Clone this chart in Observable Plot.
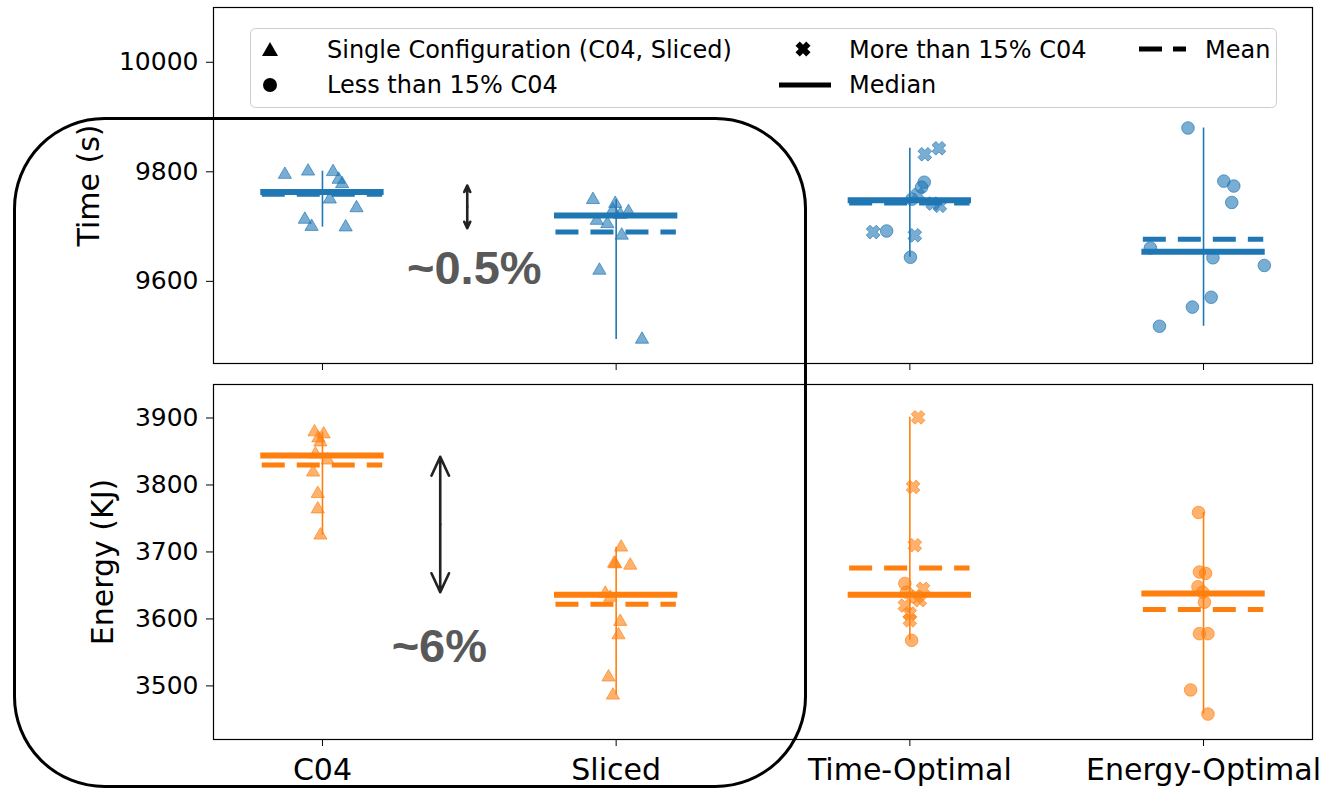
<!DOCTYPE html>
<html>
<head>
<meta charset="utf-8">
<script src="https://cdn.jsdelivr.net/npm/d3@7"></script>
<script src="https://cdn.jsdelivr.net/npm/@observablehq/plot@0.6"></script>
<style>
html, body { margin: 0; padding: 0; background: #fff; }
#wrap { position: relative; width: 1326px; height: 789px; overflow: hidden; font-family: "DejaVu Sans", sans-serif; }
#wrap > svg, #wrap > figure { display: block; margin: 0; }
#overlay { position: absolute; left: 0; top: 0; pointer-events: none; }
</style>
</head>
<body>
<div id="wrap"></div>
<script>
// ---------------- data ----------------
const categories = ["C04", "Sliced", "Time-Optimal", "Energy-Optimal"];

// Time (s) per configuration run
const timeValues = [
  [9795, 9801, 9800, 9786, 9778, 9750, 9734, 9713, 9700, 9699],
  [9749, 9742, 9730, 9727, 9722, 9711, 9705, 9684, 9620, 9494],
  [9843, 9832, 9781, 9772, 9758, 9750, 9742, 9738, 9692, 9690, 9684, 9644],
  [9880, 9783, 9774, 9744, 9661, 9643, 9629, 9571, 9553, 9518]
];
// horizontal jitter (category units)
const timeJitter = [
  [-0.128, -0.049, 0.036, 0.055, 0.067, 0.025, 0.116, -0.060, -0.037, 0.079],
  [-0.079, -0.003, -0.011, 0.042, 0.014, -0.066, -0.030, 0.019, -0.057, 0.088],
  [0.099, 0.051, 0.049, 0.040, 0.027, 0.007, 0.078, 0.102, -0.079, -0.125, 0.017, 0.002],
  [-0.053, 0.069, 0.103, 0.096, -0.181, 0.032, 0.207, 0.026, -0.038, -0.150]
];
// S = single configuration, L = less than 15% C04, M = more than 15% C04
const timeGroup = [
  ["S","S","S","S","S","S","S","S","S","S"],
  ["S","S","S","S","S","S","S","S","S","S"],
  ["M","M","L","L","M","L","M","M","L","M","M","L"],
  ["L","L","L","L","L","L","L","L","L","L"]
];
const timeMedian = [9763, 9720, 9748, 9654];
const timeMean   = [9759, 9690, 9743, 9677];

// Energy (KJ) per configuration run
const energyValues = [
  [3879, 3876, 3864, 3846, 3837, 3819, 3787, 3764, 3725, 3870],
  [3707, 3683, 3682, 3680, 3638, 3632, 3596, 3576, 3513, 3486],
  [3901, 3797, 3710, 3653, 3645, 3640, 3633, 3628, 3620, 3608, 3598, 3568],
  [3759, 3670, 3668, 3648, 3640, 3625, 3578, 3578, 3494, 3458]
];
const energyJitter = [
  [-0.027, 0.004, -0.007, -0.024, 0.018, -0.032, -0.016, -0.016, -0.007, -0.014],
  [0.017, -0.007, -0.003, 0.048, -0.037, -0.020, 0.014, 0.008, -0.026, -0.011],
  [0.028, 0.011, 0.017, -0.017, 0.045, -0.011, 0.023, 0.034, -0.017, 0.000, 0.000, 0.006],
  [-0.017, -0.014, 0.007, -0.019, -0.003, 0.003, -0.014, 0.015, -0.044, 0.015]
];
const energyGroup = [
  ["S","S","S","S","S","S","S","S","S","S"],
  ["S","S","S","S","S","S","S","S","S","S"],
  ["M","M","M","L","M","L","M","M","M","M","M","L"],
  ["L","L","L","L","L","L","L","L","L","L"]
];
const energyMedian = [3844, 3636, 3636, 3638];
const energyMean   = [3830, 3622, 3676, 3614];

const timeTicks = [9600, 9800, 10000];
const energyTicks = [3500, 3600, 3700, 3800, 3900];

// gap annotations between C04 and Sliced
const gapLabels    = ["~0.5%", "~6%"];
const gapLabelX    = [0.517, 0.398];
const gapLabelY    = [9623, 3558];
const gapArrowX    = [0.493, 0.401];
const gapArrowFrom = [9775, 3842];
const gapArrowTo   = [9697, 3640];

const legendLabels = ["Single Configuration (C04, Sliced)", "Less than 15% C04", "More than 15% C04", "Median", "Mean"];

// ---------------- helpers ----------------
const BLUE = "#1f77b4", ORANGE = "#ff7f0e";

const symbolX = {
  draw(ctx, size) {
    const h = Math.sqrt(size) * 0.62, w = h * 0.38, c = Math.SQRT1_2;
    const pts = [[-w,-h],[w,-h],[w,-w],[h,-w],[h,w],[w,w],[w,h],[-w,h],[-w,w],[-h,w],[-h,-w],[-w,-w]];
    pts.forEach(([x, y], k) => {
      const X = (x - y) * c, Y = (x + y) * c;
      if (k) ctx.lineTo(X, Y); else ctx.moveTo(X, Y);
    });
    ctx.closePath();
  }
};

function buildRows(values, jitter, groups) {
  return values.flatMap((vs, i) => vs.map((v, j) => ({ x: i + jitter[i][j], y: v, g: groups[i][j] })));
}
function buildStats(values, med, mean) {
  return categories.map((c, i) => ({ i, median: med[i], mean: mean[i], lo: d3.min(values[i]), hi: d3.max(values[i]) }));
}

function panel({ rows, stats, color, yDomain, yTicks, yLabel, labelDx, height, mt, mb, showX, k }) {
  const mid = (gapArrowFrom[k] + gapArrowTo[k]) / 2;
  const arrows = [
    { x: gapArrowX[k], y1: mid, y2: gapArrowFrom[k] },
    { x: gapArrowX[k], y1: mid, y2: gapArrowTo[k] }
  ];
  const dotStyle = { x: "x", y: "y", fill: color, fillOpacity: 0.6, stroke: color, strokeOpacity: 0.65, strokeWidth: 1 };
  return Plot.plot({
    width: 1326, height,
    marginTop: mt, marginBottom: mb, marginLeft: 213, marginRight: 14,
    x: { type: "linear", domain: [-0.371, 3.371] },
    y: { domain: yDomain },
    style: { fontFamily: "DejaVu Sans", fontSize: "25px", color: "#000", background: "transparent", overflow: "visible" },
    marks: [
      Plot.ruleX(stats, { x: "i", y1: "lo", y2: "hi", stroke: color, strokeWidth: 1.6 }),
      Plot.ruleY(stats, { y: "median", x1: d => d.i - 0.21, x2: d => d.i + 0.21, stroke: color, strokeWidth: 6 }),
      Plot.ruleY(stats, { y: "mean", x1: d => d.i - 0.205, x2: d => d.i + 0.205, stroke: color, strokeWidth: 5, strokeDasharray: "23,12" }),
      Plot.dot(rows.filter(d => d.g === "S"), { ...dotStyle, symbol: "triangle", r: 4.9 }),
      Plot.dot(rows.filter(d => d.g === "L"), { ...dotStyle, symbol: "circle", r: 6.3 }),
      Plot.dot(rows.filter(d => d.g === "M"), { ...dotStyle, symbol: symbolX, r: 6.4 }),
      Plot.arrow(arrows, { x1: "x", x2: "x", y1: "y1", y2: "y2", stroke: "#222", strokeWidth: 2.6, headLength: 12, headAngle: 50 }),
      Plot.text([gapLabels[k]], { text: d => d, x: gapLabelX[k], y: gapLabelY[k], fontSize: 47, fontWeight: "bold", fontFamily: "Liberation Sans", fill: "#595959", textAnchor: "middle", lineAnchor: "middle" }),
      Plot.frame({ stroke: "#000", strokeWidth: 1.2 }),
      Plot.axisY({ ticks: yTicks, tickSize: 7, tickPadding: 8, label: null, tickFormat: d => String(d), fontSize: 25 }),
      Plot.axisX({ ticks: [0, 1, 2, 3], tickSize: 7, tickPadding: 12, label: null, tickFormat: showX ? (i => categories[i]) : (() => ""), fontSize: 30 }),
      Plot.text([yLabel], { text: d => d, frameAnchor: "left", dx: labelDx, rotate: -90, fontSize: 30, textAnchor: "middle", lineAnchor: "middle", fill: "#000" })
    ]
  });
}

const wrap = document.getElementById("wrap");

wrap.appendChild(panel({
  rows: buildRows(timeValues, timeJitter, timeGroup),
  stats: buildStats(timeValues, timeMedian, timeMean),
  color: BLUE, yDomain: [9450, 10100], yTicks: timeTicks, yLabel: "Time (s)", labelDx: -124,
  height: 370, mt: 7, mb: 7, showX: false, k: 0
}));
wrap.appendChild(panel({
  rows: buildRows(energyValues, energyJitter, energyGroup),
  stats: buildStats(energyValues, energyMedian, energyMean),
  color: ORANGE, yDomain: [3420, 3950], yTicks: energyTicks, yLabel: "Energy (KJ)", labelDx: -110,
  height: 419, mt: 14, mb: 50, showX: true, k: 1
}));

// ---------------- overlay: legend + highlight box ----------------
const NS = "http://www.w3.org/2000/svg";
const ov = document.createElementNS(NS, "svg");
ov.setAttribute("id", "overlay");
ov.setAttribute("width", 1326);
ov.setAttribute("height", 789);
function el(tag, attrs, text) {
  const e = document.createElementNS(NS, tag);
  for (const k in attrs) e.setAttribute(k, attrs[k]);
  if (text != null) e.textContent = text;
  ov.appendChild(e);
  return e;
}
el("rect", { x: 250.5, y: 28.5, width: 1026, height: 79, rx: 5, fill: "#fff", "fill-opacity": 0.85, stroke: "#cccccc", "stroke-width": 1 });
// markers
el("path", { d: "M270,42 L278,56 L262,56 Z", fill: "#000" });
el("circle", { cx: 270, cy: 85, r: 7, fill: "#000" });
{
  const h = 7.6, w = 3.0, c = Math.SQRT1_2, cx = 803, cy = 49;
  const pts = [[-w,-h],[w,-h],[w,-w],[h,-w],[h,w],[w,w],[w,h],[-w,h],[-w,w],[-h,w],[-h,-w],[-w,-w]];
  const d = pts.map(([x, y], k) => (k ? "L" : "M") + (cx + (x - y) * c).toFixed(2) + "," + (cy + (x + y) * c).toFixed(2)).join("") + "Z";
  el("path", { d, fill: "#000" });
}
el("line", { x1: 779, y1: 85, x2: 831, y2: 85, stroke: "#000", "stroke-width": 5 });
el("line", { x1: 1139, y1: 49, x2: 1186, y2: 49, stroke: "#000", "stroke-width": 5, "stroke-dasharray": "23,11" });
const lt = { "font-family": "DejaVu Sans", "font-size": 24, fill: "#000" };
el("text", { ...lt, x: 327, y: 58 }, legendLabels[0]);
el("text", { ...lt, x: 327, y: 93 }, legendLabels[1]);
el("text", { ...lt, x: 849, y: 58 }, legendLabels[2]);
el("text", { ...lt, x: 849, y: 93 }, legendLabels[3]);
el("text", { ...lt, x: 1205, y: 58 }, legendLabels[4]);
// highlight rounded box around C04 / Sliced
el("rect", { x: 14.5, y: 118.5, width: 791, height: 668, rx: 90, ry: 90, fill: "none", stroke: "#000", "stroke-width": 3 });
wrap.appendChild(ov);
</script>
</body>
</html>
